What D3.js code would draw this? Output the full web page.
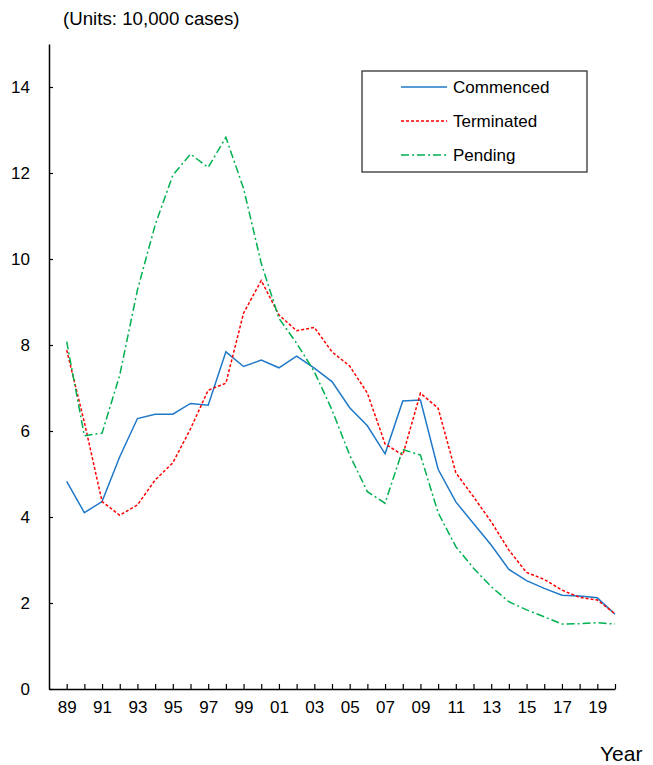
<!DOCTYPE html>
<html>
<head>
<meta charset="utf-8">
<script src="https://cdn.jsdelivr.net/npm/d3@7"></script>
<style>
  html, body { margin: 0; padding: 0; background: #fff; }
  svg { display: block; font-family: "Liberation Sans", Arial, sans-serif; }
</style>
</head>
<body>
<svg id="chart" width="653" height="765"></svg>
<script>
const years = d3.range(1989, 2021);
const commenced = [4.83, 4.10, 4.36, 5.40, 6.29, 6.39, 6.39, 6.64, 6.60, 7.84, 7.50, 7.65, 7.47, 7.74, 7.46, 7.15, 6.54, 6.12, 5.47, 6.70, 6.72, 5.11, 4.35, 3.85, 3.35, 2.78, 2.52, 2.34, 2.18, 2.16, 2.12, 1.74];
const terminated = [7.88, 6.20, 4.36, 4.04, 4.28, 4.86, 5.26, 6.05, 6.95, 7.11, 8.74, 9.50, 8.70, 8.33, 8.41, 7.84, 7.51, 6.88, 5.70, 5.44, 6.88, 6.53, 5.03, 4.47, 3.89, 3.23, 2.71, 2.55, 2.30, 2.13, 2.07, 1.75];
const pending = [8.08, 5.89, 5.95, 7.30, 9.28, 10.79, 11.95, 12.44, 12.13, 12.83, 11.64, 9.90, 8.62, 8.04, 7.38, 6.49, 5.44, 4.59, 4.32, 5.57, 5.44, 4.10, 3.31, 2.81, 2.38, 2.03, 1.84, 1.68, 1.51, 1.52, 1.54, 1.51];
const yTicks = [0, 2, 4, 6, 8, 10, 12, 14];
const seriesNames = ["Commenced", "Terminated", "Pending"];

const series = [
  { name: seriesNames[0], values: commenced, color: "#1f78c8", dash: null },
  { name: seriesNames[1], values: terminated, color: "#ff0000", dash: "3,2" },
  { name: seriesNames[2], values: pending, color: "#00b050", dash: "8,3,2,3" }
];

const svg = d3.select("#chart");
const x = d3.scaleLinear().domain([1988, 2020]).range([49, 615]);
const y = d3.scaleLinear().domain([0, 15]).range([689, 44]);

// Axes
const xAxis = d3.axisBottom(x)
  .tickValues(years)
  .tickSizeInner(-5).tickSizeOuter(0).tickPadding(12)
  .tickFormat(d => (d % 2 === 1) ? String(d % 100).padStart(2, "0") : "");
const gx = svg.append("g").attr("transform", "translate(0,689)").call(xAxis);

const yAxis = d3.axisLeft(y)
  .tickValues(yTicks)
  .tickSizeInner(-4).tickSizeOuter(0).tickPadding(19)
  .tickFormat(d3.format("d"));
const gy = svg.append("g").attr("transform", "translate(49,0)").call(yAxis);

[gx, gy].forEach(g => {
  g.selectAll(".domain").attr("stroke", "#000").attr("stroke-width", 1.5);
  g.selectAll(".tick line").attr("stroke", "#000").attr("stroke-width", 1.2);
  g.selectAll("text").attr("font-size", 17).attr("fill", "#000")
    .attr("font-family", "'Liberation Sans', Arial, sans-serif");
});

// Lines
const line = d3.line().x((d, i) => x(years[i])).y(d => y(d));
series.forEach(s => {
  svg.append("path")
    .datum(s.values)
    .attr("fill", "none")
    .attr("stroke", s.color)
    .attr("stroke-width", 1.5)
    .attr("stroke-dasharray", s.dash)
    .attr("d", line);
});

// Texts
svg.append("text").attr("x", 63).attr("y", 25).attr("font-size", 18.7)
  .text("(Units: 10,000 cases)");
svg.append("text").attr("x", 600).attr("y", 761).attr("font-size", 21)
  .text("Year");

// Legend
const lg = svg.append("g");
lg.append("rect").attr("x", 362).attr("y", 71).attr("width", 225).attr("height", 101)
  .attr("fill", "#fff").attr("stroke", "#333").attr("stroke-width", 1.3);
series.forEach((s, i) => {
  const cy = 87 + i * 34;
  lg.append("line").attr("x1", 401).attr("x2", 447).attr("y1", cy).attr("y2", cy)
    .attr("stroke", s.color).attr("stroke-width", 1.5).attr("stroke-dasharray", s.dash);
  lg.append("text").attr("x", 453).attr("y", cy).attr("dy", "0.35em")
    .attr("font-size", 17).text(s.name);
});
</script>
</body>
</html>
